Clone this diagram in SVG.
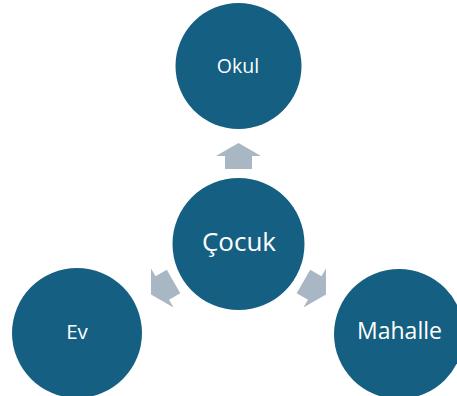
<svg xmlns="http://www.w3.org/2000/svg" width="457" height="396" viewBox="0 0 457 396">
<defs>
<style>
.node{fill:#156082;}
.lbl{fill:#ffffff;font-family:"Open Sans","DejaVu Sans",sans-serif;text-anchor:middle;}
.arr{fill:#A9B6C4;}
</style>
<path id="arrow" d="M238.5,143 L261,156 L252,156 L252,169 L225,169 L225,156 L216,156 Z"/>
</defs>
<rect width="457" height="396" fill="#ffffff"/>
<g id="connectors">
<use href="#arrow" class="arr"/>
<use href="#arrow" class="arr" transform="rotate(-120 238.5 244)"/>
<use href="#arrow" class="arr" transform="rotate(120 238.5 244)"/>
</g>
<g id="okul">
<circle class="node" cx="238.5" cy="66" r="63"/>
<text class="lbl" x="238" y="73" font-size="19.5">Okul</text>
</g>
<g id="cocuk">
<circle class="node" cx="238.5" cy="244" r="66"/>
<text class="lbl" x="239" y="251" font-size="26">Çocuk</text>
</g>
<g id="ev">
<circle class="node" cx="77" cy="333" r="65"/>
<text class="lbl" x="77" y="339" font-size="20.5">Ev</text>
</g>
<g id="mahalle">
<circle class="node" cx="399" cy="334" r="65"/>
<text class="lbl" x="399.5" y="339" font-size="23">Mahalle</text>
</g>
</svg>
